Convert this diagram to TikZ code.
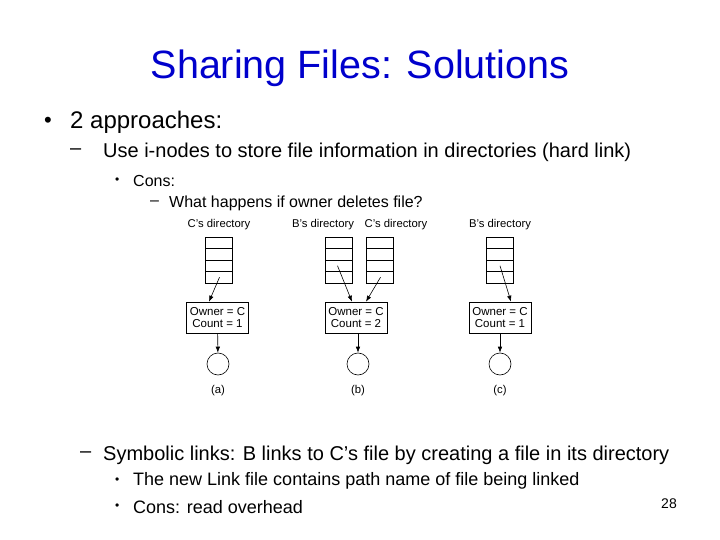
\documentclass[tikz,border=0pt]{standalone}
\usepackage{fontspec}
\setmainfont{Liberation Sans}
\usetikzlibrary{arrows.meta}
\begin{document}
\begin{tikzpicture}[x=1pt,y=-1pt,
  txt/.style={anchor=west,inner sep=0pt},
  lab/.style={font=\fontsize{11.3}{12}\selectfont,inner sep=0pt},
  dirbox/.style={draw,minimum width=27pt,minimum height=11.5pt,inner sep=0pt,line width=0.6pt},
  inode/.style={draw,align=center,font=\fontsize{11.5}{12.5}\selectfont,inner sep=0pt,minimum width=62pt,minimum height=31pt,line width=0.6pt},
  file/.style={draw,circle,minimum size=22pt,inner sep=0pt,line width=0.6pt},
  arr/.style={-{Latex[length=6pt,width=4.5pt]},line width=0.6pt}]
\useasboundingbox (0,0) rectangle (720,540);
\node[inner sep=0pt,text=blue!80!black,font=\fontsize{39.5}{42}\selectfont] (title) at (360,68) {Sharing Files: Solutions};
\node[txt,font=\fontsize{22}{24}\selectfont] (b1) at (44,122) {•};
\node[txt,font=\fontsize{24}{26}\selectfont] (t1) at (70,122) {2 approaches:};
\node[txt,font=\fontsize{20}{22}\selectfont] (b2) at (70,152) {–};
\node[txt,font=\fontsize{20}{22}\selectfont] (t2) at (103,152) {Use i-nodes to store file information in directories (hard link)};
\node[txt,font=\fontsize{12}{13}\selectfont] (b3) at (115,181) {•};
\node[txt,font=\fontsize{16}{18}\selectfont] (t3) at (133,181) {Cons:};
\node[txt,font=\fontsize{16}{18}\selectfont] (b4) at (150,203) {–};
\node[txt,font=\fontsize{16}{18}\selectfont] (t4) at (169,203) {What happens if owner deletes file?};
\node[txt,font=\fontsize{20}{22}\selectfont] (b5) at (80,455) {–};
\node[txt,font=\fontsize{20}{22}\selectfont] (t5) at (103,455) {Symbolic links: B links to C’s file by creating a file in its directory};
\node[txt,font=\fontsize{12}{13}\selectfont] (b6) at (115,481) {•};
\node[txt,font=\fontsize{18}{20}\selectfont] (t6) at (133,481) {The new Link file contains path name of file being linked};
\node[txt,font=\fontsize{12}{13}\selectfont] (b7) at (115,507) {•};
\node[txt,font=\fontsize{18}{20}\selectfont] (t7) at (133,507) {Cons: read overhead};
\node[inner sep=0pt,font=\fontsize{14}{16}\selectfont] (pg) at (669,504) {28};
% directory labels
\node[lab] (la) at (219,225) {C's directory};
\node[lab] (lb1) at (323,225) {B's directory};
\node[lab] (lb2) at (396,225) {C's directory};
\node[lab] (lc) at (500,225) {B's directory};
% directories
\foreach \n/\x in {a/218.5,b/338.5,d/379.5,c/500}{
  \foreach \i in {1,...,4}{
    \node[dirbox] (\n\i) at (\x,{237+11.5*(\i-0.5)}) {};
  }
}
% inodes
\node[inode] (ia) at (217.5,317.5) {Owner = C\\Count = 1};
\node[inode] (ib) at (356,317.5) {Owner = C\\Count = 2};
\node[inode] (ic) at (500,317.5) {Owner = C\\Count = 1};
% files
\node[file] (fa) at (218,364) {};
\node[file] (fb) at (358,364) {};
\node[file] (fc) at (500,364) {};
\node[lab] (ca) at (218,391) {(a)};
\node[lab] (cb) at (358,391) {(b)};
\node[lab] (cc) at (500,391) {(c)};
% arrows
\draw[arr] ([xshift=1pt]a4.center) -- (ia.north -| 209,0);
\draw[arr] ([xshift=-1pt]b3.center) -- (ib.north -| 352,0);
\draw[arr] ([xshift=1pt]d4.center) -- (ib.north -| 366,0);
\draw[arr] (c3.center) -- (ic.north -| 511,0);
\draw[arr] (ia) -- (fa);
\draw[arr] (ib.south -| fb) -- (fb);
\draw[arr] (ic) -- (fc);
\end{tikzpicture}
\end{document}
